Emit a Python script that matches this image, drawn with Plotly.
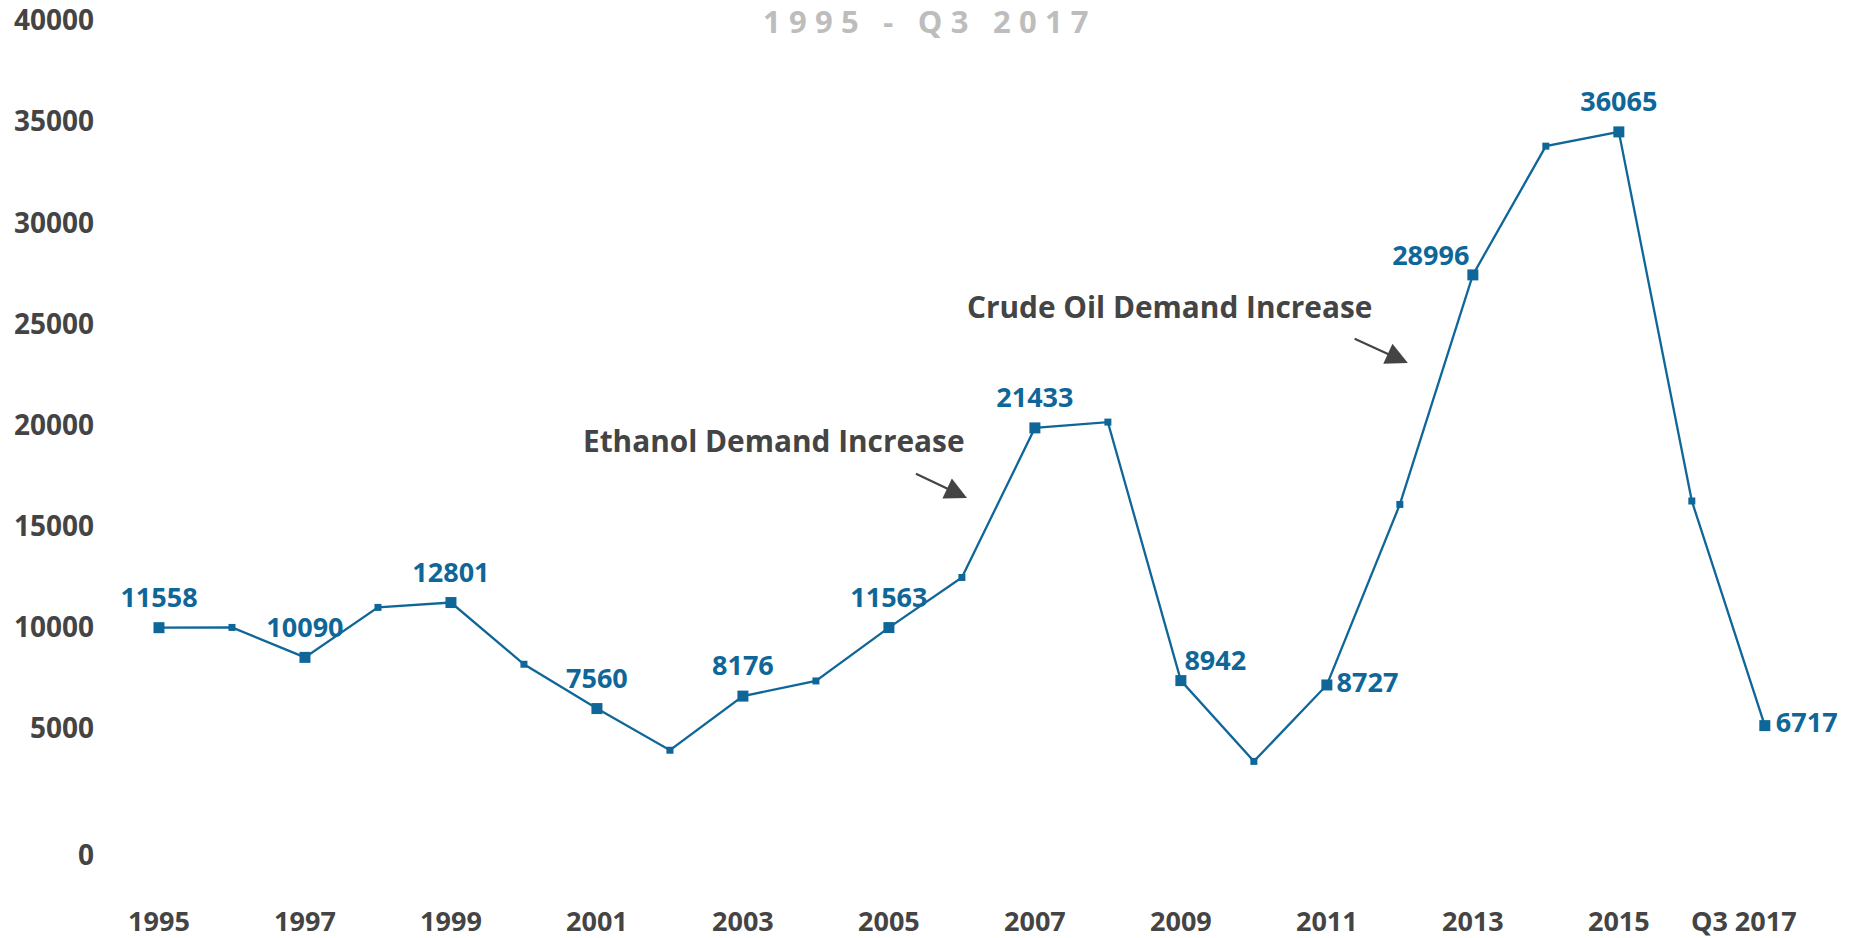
import plotly.graph_objects as go

# ---- data ----
periods = ["1995", "1996", "1997", "1998", "1999", "2000", "2001", "2002", "2003",
           "2004", "2005", "2006", "2007", "2008", "2009", "2010", "2011", "2012",
           "2013", "2014", "2015", "2016", "Q3 2017"]
values = [11558, 11570, 10090, 12560, 12801, 9750, 7560, 5500, 8176,
          8925, 11563, 14040, 21433, 21720, 8942, 4950, 8727, 17650,
          28996, 35360, 36065, 17820, 6717]
labelled = ["1995", "1997", "1999", "2001", "2003", "2005", "2007", "2009",
            "2011", "2013", "2015", "Q3 2017"]
x_tick_labels = ["1995", "1997", "1999", "2001", "2003", "2005", "2007", "2009",
                 "2011", "2013", "2015", "Q3 2017"]
y_tick_labels = [0, 5000, 10000, 15000, 20000, 25000, 30000, 35000, 40000]
title_text = "1995 - Q3 2017"
notes = ["Ethanol Demand Increase", "Crude Oil Demand Increase"]

# ---- style ----
BLUE = "#0f6698"
GREY = "#444444"
FONT = "Open Sans"

label_pos = {"2009": "top right", "2011": "middle right", "Q3 2017": "middle right",
             "2013": "top left"}
label_gap = {"2009": 4, "2013": 4, "2011": 14, "Q3 2017": 16}

texts = [str(v) if p in labelled else "" for p, v in zip(periods, values)]
sizes = [11 if p in labelled else 7 for p in periods]
positions = [label_pos.get(p, "top center") for p in periods]
gaps = [label_gap.get(p, 21) for p in periods]

fig = go.Figure()
fig.add_trace(go.Scatter(
    x=periods, y=values, mode="lines+markers",
    line=dict(color=BLUE, width=2.3),
    marker=dict(symbol="square", size=sizes, color=BLUE, opacity=1,
                line=dict(width=0)),
    cliponaxis=False, hoverinfo="skip", showlegend=False,
))
# value labels (invisible carrier markers set the label spacing)
fig.add_trace(go.Scatter(
    x=periods, y=values, mode="markers+text",
    marker=dict(size=gaps, color="rgba(0,0,0,0)", line=dict(width=0)),
    text=texts, textposition=positions,
    textfont=dict(family=FONT, size=27, color=BLUE, weight="bold"),
    cliponaxis=False, hoverinfo="skip", showlegend=False,
))

# The reference's y tick labels sit slightly above their nominal value
tickvals = [v + (1570 if v else 300) for v in y_tick_labels]
# the last x label in the reference sits a little left of its point
ticktext = [t + "\u00a0" * 6 if t.startswith("Q") else t for t in x_tick_labels]

fig.update_layout(
    width=1860, height=938,
    margin=dict(l=100, r=20, t=10, b=58),
    plot_bgcolor="white", paper_bgcolor="white",
    xaxis=dict(type="category", range=[-0.808, 23.03], showgrid=False, zeroline=False,
               showline=False, tickmode="array", tickvals=x_tick_labels,
               ticktext=ticktext, ticklabelstandoff=23, automargin=False,
               tickfont=dict(family=FONT, size=27, color=GREY, weight="bold")),
    yaxis=dict(range=[-914, 42090], showgrid=False, zeroline=False, showline=False,
               tickmode="array", tickvals=tickvals, automargin=False,
               ticktext=[str(v) for v in y_tick_labels], ticklabelstandoff=5,
               tickfont=dict(family=FONT, size=28, color=GREY, weight="bold")),
)

sep = "\u2009\u200a"
title_spaced = sep.join("\u00a0" if c == " " else c for c in title_text)
fig.add_annotation(text=title_spaced, xref="paper", yref="paper", x=0.4747, y=0.9874,
                   xanchor="center", yanchor="middle", showarrow=False,
                   font=dict(family=FONT, size=31, color="#bdbdbd", weight="bold"))

fig.add_annotation(text=notes[0], x=8.42, y=20790, xref="x", yref="y", showarrow=False,
                   font=dict(family=FONT, size=29.8, color=GREY, weight="bold"))
fig.add_annotation(text=notes[1], x=13.85, y=27410, xref="x", yref="y", showarrow=False,
                   font=dict(family=FONT, size=29.8, color=GREY, weight="bold"))
for head, tail in [((11.07, 17968), (10.35, 19204)), ((17.11, 24641), (16.36, 25877))]:
    fig.add_annotation(text="", x=head[0], y=head[1], ax=tail[0], ay=tail[1],
                       xref="x", yref="y", axref="x", ayref="y", showarrow=True,
                       arrowhead=2, arrowsize=2, arrowwidth=2.2, arrowcolor=GREY,
                       standoff=0)

fig.write_html("out.html", config={"displayModeBar": False},
               post_script="document.body.style.margin='0';")
